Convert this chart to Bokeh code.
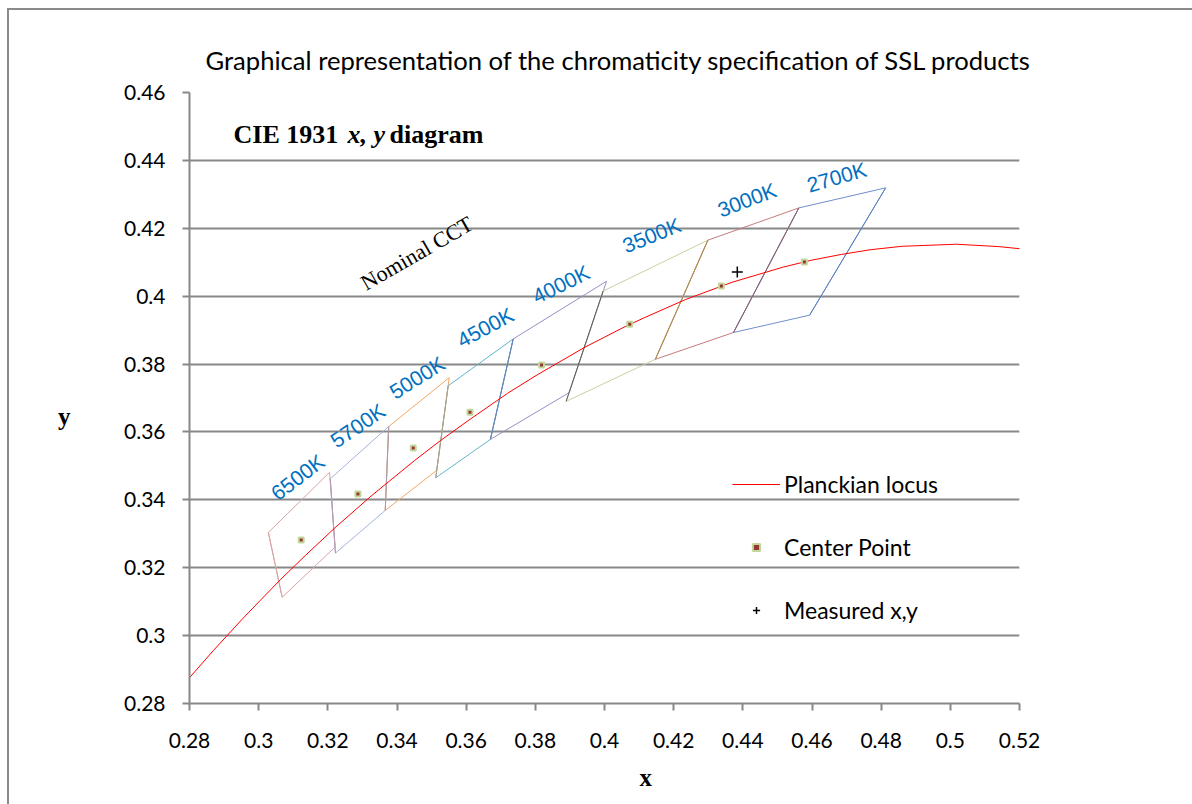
from bokeh.plotting import figure
from bokeh.models import FixedTicker, Label, Legend, LegendItem, LinearAxis
from bokeh.core.properties import value
from bokeh.embed import file_html
from bokeh.resources import INLINE

# ---------------- data ----------------
cct_names = ["6500K", "5700K", "5000K", "4500K", "4000K", "3500K", "3000K", "2700K"]
center_x = [0.3123, 0.3287, 0.3447, 0.3611, 0.3818, 0.4073, 0.4338, 0.4578]
center_y = [0.3282, 0.3417, 0.3553, 0.3658, 0.3797, 0.3917, 0.4030, 0.4101]

# quadrangle corners: top-right, top-left, bottom-left, bottom-right
quad_x = [
    [0.3205, 0.3028, 0.3068, 0.3221],
    [0.3376, 0.3207, 0.3222, 0.3366],
    [0.3551, 0.3376, 0.3366, 0.3515],
    [0.3736, 0.3548, 0.3512, 0.3670],
    [0.4006, 0.3736, 0.3670, 0.3898],
    [0.4299, 0.3996, 0.3889, 0.4147],
    [0.4562, 0.4299, 0.4147, 0.4373],
    [0.4813, 0.4562, 0.4373, 0.4593],
]
quad_y = [
    [0.3481, 0.3304, 0.3113, 0.3261],
    [0.3616, 0.3462, 0.3243, 0.3369],
    [0.3760, 0.3616, 0.3369, 0.3487],
    [0.3874, 0.3736, 0.3465, 0.3578],
    [0.4044, 0.3874, 0.3578, 0.3716],
    [0.4165, 0.4015, 0.3690, 0.3814],
    [0.4260, 0.4165, 0.3814, 0.3893],
    [0.4319, 0.4260, 0.3893, 0.3944],
]

# Planckian locus (11000 K ... 2000 K)
planck_x = [0.2759, 0.2807, 0.2869, 0.2952, 0.3004, 0.3064, 0.3135, 0.3221, 0.3325, 0.3451,
            0.3525, 0.3608, 0.3720, 0.3805, 0.3944, 0.4053, 0.4112, 0.4234, 0.4369, 0.4518,
            0.4599, 0.4685, 0.4770, 0.4861, 0.5018, 0.5140, 0.5267]
planck_y = [0.2826, 0.2884, 0.2956, 0.3048, 0.3103, 0.3166, 0.3236, 0.3318, 0.3411, 0.3516,
            0.3574, 0.3635, 0.3714, 0.3768, 0.3850, 0.3907, 0.3935, 0.3990, 0.4041, 0.4086,
            0.4106, 0.4123, 0.4137, 0.4147, 0.4153, 0.4146, 0.4133]

measured_x = [0.4384]
measured_y = [0.4071]

x_ticks = [0.28, 0.3, 0.32, 0.34, 0.36, 0.38, 0.4, 0.42, 0.44, 0.46, 0.48, 0.5, 0.52]
x_tick_labels = ["0.28", "0.3", "0.32", "0.34", "0.36", "0.38", "0.4", "0.42", "0.44",
                 "0.46", "0.48", "0.5", "0.52"]
y_ticks = [0.28, 0.3, 0.32, 0.34, 0.36, 0.38, 0.4, 0.42, 0.44, 0.46]
y_tick_labels = ["0.28", "0.3", "0.32", "0.34", "0.36", "0.38", "0.4", "0.42", "0.44", "0.46"]

title_text = "Graphical representation of the chromaticity specification of SSL products"
x_title = "x"
y_title = "y"

# label anchors for the nominal CCT names (data coordinates) and their rotation
cct_label_x = [0.3043, 0.3214, 0.3384, 0.3578, 0.3795, 0.4055, 0.4330, 0.4587]
cct_label_y = [0.3413, 0.3569, 0.3713, 0.3866, 0.3996, 0.4146, 0.4252, 0.4326]
cct_label_angle = [37, 34, 32, 28, 26, 22, 21, 16]
# where the axis titles sit along their axes (data coordinates)
x_title_pos = 0.4119
y_title_pos = 0.3645

# ---------------- styles ----------------
quad_colors = ["#d9a3a3", "#a3b3dc", "#f4a765", "#5fb5cc", "#9c8cc4", "#c8d3a0", "#c47c7c", "#6e8fc8"]
divider_colors = ["#d9a3a3", "#b898b0", "#a99aa6", "#b8a082", "#5f87b8", "#5a5a5a",
                  "#a8914f", "#8f6070", "#5a80c0"]
GREY = "#888888"
SANS = "Lato"
SERIF = "Liberation Serif"

p = figure(width=1200, height=800, output_backend="svg", toolbar_location=None,
           x_range=(0.28, 0.52), y_range=(0.28, 0.46),
           min_border_left=180, min_border_top=82, min_border_right=190, min_border_bottom=107,
           background_fill_color="white", border_fill_color="white")
p.styles = {"margin-left": "7px", "margin-top": "8px",
            "border-left": "2px solid #8a8a8a", "border-top": "2px solid #8a8a8a"}
p.outline_line_color = None

# title
p.title.text = title_text
p.title.text_font = SANS
p.title.text_font_size = "25.6px"
p.title.text_font_style = "normal"
p.title.text_color = "black"
p.title.align = "left"
p.title.offset = 16
p.title.standoff = 35

# quadrangles
qxs = [q + [q[0]] for q in quad_x]
qys = [q + [q[0]] for q in quad_y]
p.multi_line(xs=qxs, ys=qys, line_color=quad_colors, line_width=1)

# separating edges (left edge of each quad, right edge of the last)
d_x0 = [q[1] for q in quad_x] + [quad_x[-1][0]]
d_y0 = [q[1] for q in quad_y] + [quad_y[-1][0]]
d_x1 = [q[2] for q in quad_x] + [quad_x[-1][3]]
d_y1 = [q[2] for q in quad_y] + [quad_y[-1][3]]
p.segment(x0=d_x0, y0=d_y0, x1=d_x1, y1=d_y1, line_color=divider_colors, line_width=1)

r_planck = p.line(planck_x, planck_y, line_color="#ff0000", line_width=1)
r_center = p.scatter(center_x, center_y, marker="square", size=5, fill_color="#953735",
                     line_color="#c4d79b", line_width=2)
r_meas = p.scatter(measured_x, measured_y, marker="cross", size=11, line_color="black",
                   line_width=1.5)

p.text(x=cct_label_x, y=cct_label_y, text=cct_names, angle=cct_label_angle, angle_units="deg",
       text_color="#0070c0", text_font=value("Liberation Sans"), text_font_size="21px",
       text_baseline="alphabetic", text_align="left")

# axes
p.xgrid.visible = False
p.ygrid.grid_line_color = GREY
p.ygrid.grid_line_width = 2
p.ygrid.ticker = FixedTicker(ticks=y_ticks)

for ax, ticks, labels in ((p.xaxis[0], x_ticks, x_tick_labels), (p.yaxis[0], y_ticks, y_tick_labels)):
    ax.ticker = FixedTicker(ticks=ticks)
    ax.major_label_overrides = dict(zip(ticks, labels))
    ax.axis_line_color = GREY
    ax.axis_line_width = 2
    ax.major_tick_line_color = GREY
    ax.major_tick_line_width = 2
    ax.major_tick_out = 7
    ax.major_tick_in = 0
    ax.minor_tick_line_color = None
    ax.major_label_text_font = SANS
    ax.major_label_text_font_size = "21px"
    ax.major_label_text_color = "black"
p.xaxis[0].major_label_standoff = 22
p.yaxis[0].major_label_standoff = 17

# axis titles as extra label-only axes
def title_axis(pos, text, standoff):
    a = LinearAxis(ticker=FixedTicker(ticks=[pos]), major_label_overrides={pos: text})
    a.axis_line_color = None
    a.major_tick_line_color = None
    a.minor_tick_line_color = None
    a.major_tick_out = 0
    a.major_tick_in = 0
    a.major_label_standoff = standoff
    a.major_label_text_font = SERIF
    a.major_label_text_font_style = "bold"
    a.major_label_text_font_size = "25px"
    a.major_label_text_color = "black"
    return a

p.add_layout(title_axis(x_title_pos, x_title, 13), "below")
p.add_layout(title_axis(y_title_pos, y_title, 51), "left")

# texts inside the plot
p.add_layout(Label(x=44, y=569, x_units="screen", y_units="screen", text="CIE 1931",
                   text_font=SERIF, text_font_style="bold", text_font_size="26px",
                   text_color="black", text_baseline="alphabetic"))
p.add_layout(Label(x=158, y=569, x_units="screen", y_units="screen", text="x, y",
                   text_font=SERIF, text_font_style="bold italic", text_font_size="26px",
                   text_color="black", text_baseline="alphabetic"))
p.add_layout(Label(x=200, y=569, x_units="screen", y_units="screen", text="diagram",
                   text_font=SERIF, text_font_style="bold", text_font_size="26px",
                   text_color="black", text_baseline="alphabetic"))
p.add_layout(Label(x=173, y=419, x_units="screen", y_units="screen", text="Nominal CCT",
                   angle=30, angle_units="deg", text_color="black",
                   text_font=SERIF, text_font_size="22px", text_baseline="alphabetic"))

legend = Legend(items=[LegendItem(label="Planckian locus", renderers=[r_planck]),
                       LegendItem(label="Center Point", renderers=[r_center]),
                       LegendItem(label="Measured x,y", renderers=[r_meas])],
                location=(543, 78), padding=0, margin=0, spacing=33,
                glyph_height=18, glyph_width=48, label_height=30, label_standoff=4,
                label_text_font=SANS, label_text_font_size="23px", label_text_color="black",
                border_line_color=None, background_fill_alpha=0)
p.add_layout(legend)

html = file_html(p, INLINE)
html = html.replace("<body>", '<body style="overflow:hidden">', 1)
open("out.html", "w").write(html)
